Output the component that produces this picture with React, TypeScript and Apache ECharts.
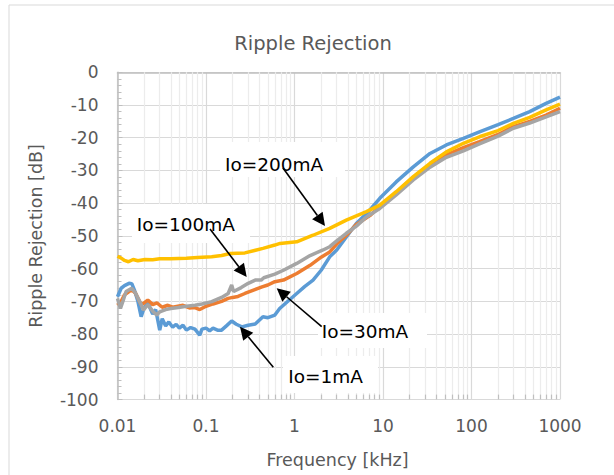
import React, { useEffect, useRef } from "react";
import * as echarts from "echarts";

// ---- data (frequency kHz, rejection dB) ----
const io1mA: [number, number][] = [
  [0.01, -68.6], [0.011, -66], [0.012, -65.2], [0.0135, -64.5], [0.0145, -64.6], [0.0155, -66.5],
  [0.017, -70], [0.0185, -74.7], [0.02, -72], [0.022, -70.5], [0.025, -73.9], [0.027, -72.5],
  [0.03, -78.8], [0.032, -75.3], [0.035, -77.5], [0.038, -76.3], [0.042, -77.9], [0.046, -77],
  [0.05, -78.2], [0.055, -77.3], [0.06, -78.8], [0.067, -78], [0.075, -78.5], [0.085, -80.3],
  [0.09, -78.5], [0.1, -78.2], [0.11, -79], [0.12, -78.2], [0.135, -78.8], [0.15, -78.8],
  [0.17, -77.5], [0.195, -76], [0.22, -77], [0.254, -77.8], [0.3, -77.3], [0.36, -76.9],
  [0.44, -74.7], [0.5, -75], [0.6, -74.2], [0.68, -72.2], [0.8, -70.5], [1.06, -67.6],
  [1.3, -65.5], [1.62, -63.5], [2.0, -60.5], [2.5, -56.4], [3.0, -54.3], [3.85, -50.3],
  [5.0, -46.2], [7.0, -42.3], [9.2, -38.5], [14.1, -33.5], [22, -28.9], [34, -24.8],
  [52, -22.2], [81, -20.2], [123, -18.2], [200, -16], [297, -14.1], [455, -12],
  [697, -9.5], [1000, -7.6],
];
const io30mA: [number, number][] = [
  [0.01, -71.2], [0.011, -70], [0.012, -68], [0.0135, -67], [0.0145, -66.5], [0.016, -67.5],
  [0.0185, -71], [0.02, -70.5], [0.022, -69.6], [0.025, -71], [0.028, -70.5], [0.032, -71.8],
  [0.037, -71.2], [0.042, -71.8], [0.048, -71.5], [0.055, -71.2], [0.065, -72], [0.075, -71.9],
  [0.085, -72.5], [0.1, -71.5], [0.12, -70.8], [0.15, -70], [0.178, -69.1], [0.2, -68.8],
  [0.23, -68.5], [0.275, -67.6], [0.35, -66.5], [0.43, -65.6], [0.5, -65], [0.6, -64],
  [0.75, -63.5], [1.06, -61.5], [1.5, -59], [2.0, -56.5], [2.5, -54.9], [3.0, -52.5],
  [3.85, -49.8], [5.0, -46.5], [7.1, -43.8], [9.2, -41], [14.1, -36.8], [22, -32.1],
  [34, -28.5], [52, -25.2], [81, -23], [123, -21.2], [200, -19], [297, -16.6],
  [455, -15], [697, -13.1], [1000, -11],
];
const io100mA: [number, number][] = [
  [0.01, -69.1], [0.0108, -72.2], [0.0115, -70], [0.0125, -67], [0.0145, -66], [0.016, -67.5],
  [0.0185, -71], [0.0196, -72.7], [0.022, -71], [0.025, -73], [0.0277, -74.2], [0.03, -73.2],
  [0.035, -72.5], [0.04, -72.2], [0.0487, -71.9], [0.06, -71.5], [0.075, -71.2], [0.09, -70.8],
  [0.116, -70.1], [0.15, -68.8], [0.178, -67.6], [0.195, -65], [0.205, -67], [0.25, -65.8],
  [0.3, -64.5], [0.36, -63.5], [0.42, -63.5], [0.45, -62.8], [0.6, -61.7], [0.75, -60.5],
  [1.06, -58.4], [1.5, -56], [2.1, -54.3], [2.5, -53.3], [3.0, -51.5], [3.85, -49.2],
  [5.0, -47], [6.5, -44.2], [9.2, -41.6], [14.1, -37.5], [22, -32.9], [34, -29],
  [52, -26], [81, -24], [123, -21.9], [200, -19.5], [297, -17.1], [455, -15.5],
  [697, -13.6], [1000, -12],
];
const io200mA: [number, number][] = [
  [0.01, -56.2], [0.011, -56.8], [0.012, -57.5], [0.0133, -57.9], [0.015, -57.2], [0.017, -57.6],
  [0.0204, -57.2], [0.025, -57.3], [0.03, -57], [0.04, -57], [0.0487, -56.9], [0.06, -56.8],
  [0.08, -56.6], [0.116, -56.4], [0.15, -56], [0.187, -55.4], [0.275, -55.2], [0.44, -53.8],
  [0.6, -52.8], [0.686, -52.3], [1.06, -51.8], [1.62, -49.8], [2.5, -47.7], [3.85, -45.2],
  [6.5, -42.6], [9.2, -40.6], [14.1, -36.5], [22, -31.9], [34, -27.8], [52, -24.3],
  [81, -21.7], [123, -19.7], [200, -17.8], [297, -15.6], [455, -13.8], [697, -11.5],
  [1000, -9.7],
];

const seriesNames = ["Io=1mA", "Io=30mA", "Io=100mA", "Io=200mA"];
const seriesColors = ["#5B9BD5", "#ED7D31", "#A5A5A5", "#FFC000"];
const xTickLabels = ["0.01", "0.1", "1", "10", "100", "1000"];
const decades = [0.01, 0.1, 1, 10, 100];
const minorMultipliers = [2, 3, 4, 5, 6, 7, 8, 9];

const FONT = "DejaVu Sans";

function arrow(x1: number, y1: number, x2: number, y2: number) {
  const dx = x2 - x1;
  const dy = y2 - y1;
  const len = Math.sqrt(dx * dx + dy * dy);
  const ux = dx / len;
  const uy = dy / len;
  const hl = 13;
  const hw = 6.5;
  const bx = x2 - ux * hl;
  const by = y2 - uy * hl;
  return [
    {
      type: "line",
      z: 110,
      shape: { x1, y1, x2: bx, y2: by },
      style: { stroke: "#000", lineWidth: 1.6 },
    },
    {
      type: "polygon",
      z: 110,
      shape: {
        points: [
          [x2, y2],
          [bx - uy * hw, by + ux * hw],
          [bx + uy * hw, by - ux * hw],
        ],
      },
      style: { fill: "#000" },
    },
  ];
}

function box(x: number, y: number, w: number, h: number, text: string, tx: number, ty: number) {
  return [
    { type: "rect", z: 100, shape: { x, y, width: w, height: h }, style: { fill: "#fff" } },
    {
      type: "text",
      z: 105,
      x: tx,
      y: ty,
      style: {
        text,
        fill: "#000",
        font: `18.5px "${FONT}"`,
        textAlign: "left",
        textVerticalAlign: "middle",
      },
    },
  ];
}

export default function App() {
  const ref = useRef<HTMLDivElement>(null);
  useEffect(() => {
    if (!ref.current) return;
    const chart = echarts.init(ref.current, undefined, { renderer: "svg" });

    const minorFreqs: number[] = [];
    decades.forEach((d) => minorMultipliers.forEach((m) => minorFreqs.push(d * m)));

    const dataSets = [io1mA, io30mA, io100mA, io200mA];

    chart.setOption({
      animation: false,
      textStyle: { fontFamily: FONT },
      grid: { left: 117.5, right: 54, top: 72.3, bottom: 75.5, containLabel: false },
      xAxis: {
        type: "log",
        logBase: 10,
        min: 0.01,
        max: 1000,
        axisLine: { show: true, lineStyle: { color: "#bfbfbf", width: 1.5 } },
        axisTick: { show: false },
        splitLine: { show: true, lineStyle: { color: "#d9d9d9", width: 1.2 } },
        axisLabel: {
          color: "#595959",
          fontSize: 17,
          fontFamily: FONT,
          margin: 18,
          formatter: (v: number) => {
            const e = Math.round(Math.log10(v));
            return xTickLabels[e + 2] ?? "";
          },
        },
      },
      yAxis: {
        type: "value",
        min: -100,
        max: 0,
        interval: 10,
        axisLine: { show: true, lineStyle: { color: "#bfbfbf", width: 1.5 } },
        axisTick: { show: true, inside: true, length: 5, lineStyle: { color: "#bfbfbf" } },
        minorTick: { show: true, splitNumber: 5, length: 4, lineStyle: { color: "#bfbfbf" } },
        splitLine: { show: true, lineStyle: { color: "#d9d9d9", width: 1.2 } },
        axisLabel: { color: "#595959", fontSize: 17, fontFamily: FONT, margin: 19 },
      },
      graphic: [
        {
          type: "rect",
          z: -10,
          silent: true,
          shape: { x: 9, y: 5, width: 800, height: 600 },
          style: { fill: "none", stroke: "#d9d9d9", lineWidth: 1 },
        },
        {
          type: "text",
          x: 313,
          y: 43,
          style: {
            text: "Ripple Rejection",
            fill: "#595959",
            font: `19.5px "${FONT}"`,
            textAlign: "center",
            textVerticalAlign: "middle",
          },
        },
        {
          type: "text",
          x: 337.5,
          y: 460,
          style: {
            text: "Frequency [kHz]",
            fill: "#595959",
            font: `17.5px "${FONT}"`,
            textAlign: "center",
            textVerticalAlign: "middle",
          },
        },
        {
          type: "text",
          x: 36,
          y: 236,
          rotation: Math.PI / 2,
          style: {
            text: "Ripple Rejection [dB]",
            fill: "#595959",
            font: `17.5px "${FONT}"`,
            textAlign: "center",
            textVerticalAlign: "middle",
          },
        },
        ...box(220, 142, 125, 35, "Io=200mA", 225, 164.3),
        ...box(132, 204, 118, 39, "Io=100mA", 136.7, 224.3),
        ...box(318, 313, 109, 35, "Io=30mA", 321.7, 331.7),
        ...box(283, 356, 95, 37, "Io=1mA", 288.3, 376.7),
        ...arrow(283, 168, 325, 226),
        ...arrow(210, 229, 246.7, 277),
        ...arrow(321.7, 326.7, 276.7, 288.3),
        ...arrow(273.3, 367.3, 240, 326.7),
      ],
      series: [
        {
          type: "line",
          name: "minorGrid",
          data: [],
          z: 1,
          silent: true,
          markLine: {
            z: 1,
            silent: true,
            symbol: ["none", "none"],
            label: { show: false },
            animation: false,
            lineStyle: { color: "#ececec", width: 1.2, type: "solid" },
            emphasis: { disabled: true },
            data: minorFreqs.map((f) => ({ xAxis: f })),
          },
        },
        {
          type: "line",
          name: "minorTicks",
          data: [],
          z: 2,
          silent: true,
          markLine: {
            z: 2,
            silent: true,
            symbol: ["none", "none"],
            label: { show: false },
            animation: false,
            lineStyle: { color: "#bfbfbf", width: 1.2, type: "solid" },
            emphasis: { disabled: true },
            data: minorFreqs.map((f) => [
              { coord: [f, -100] },
              { coord: [f, -98.5] },
            ]),
          },
        },
        ...dataSets.map((d, i) => ({
          type: "line",
          name: seriesNames[i],
          data: d,
          z: 10 + i,
          showSymbol: false,
          symbol: "none",
          smooth: false,
          lineStyle: { color: seriesColors[i], width: 3.5 },
          itemStyle: { color: seriesColors[i] },
          emphasis: { disabled: true },
        })),
      ],
    });
    return () => chart.dispose();
  }, []);
  return (
    <div
      ref={ref}
      style={{ position: "fixed", left: 0, top: 0, width: 614, height: 475, background: "#fff" }}
    />
  );
}
